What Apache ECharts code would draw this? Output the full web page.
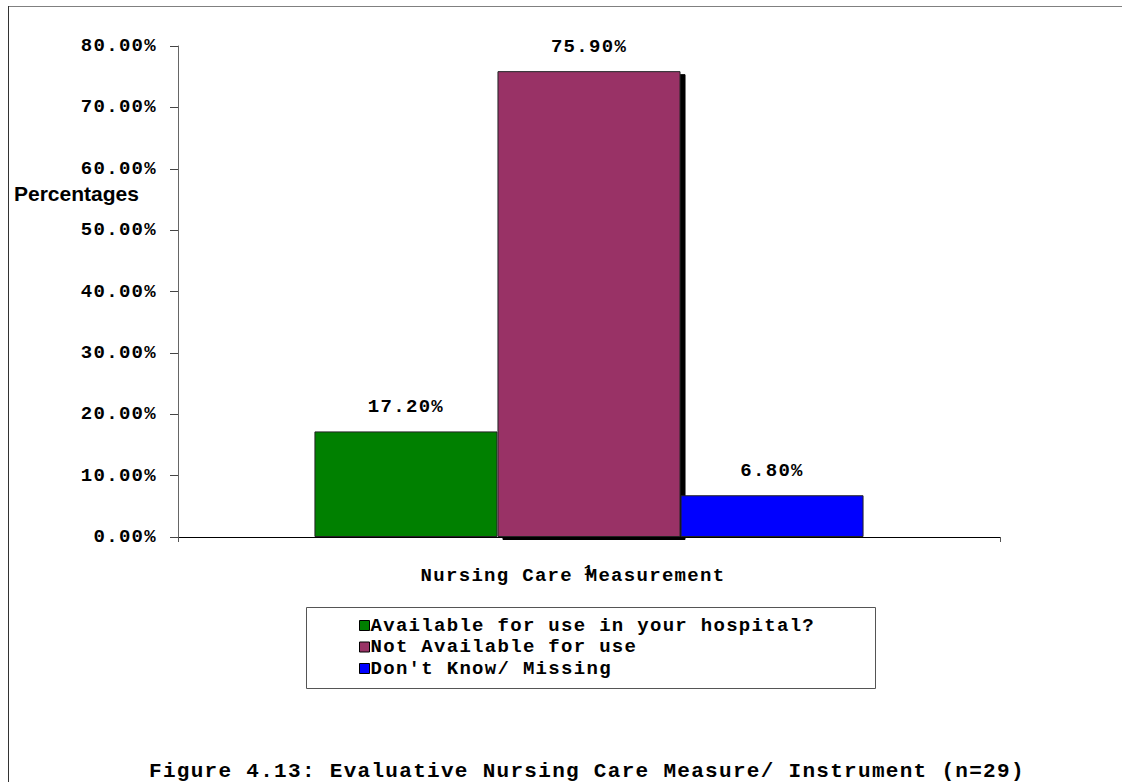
<!DOCTYPE html>
<html>
<head>
<meta charset="utf-8">
<script src="https://cdn.jsdelivr.net/npm/echarts@6/dist/echarts.min.js"></script>
<style>
  html, body { margin: 0; padding: 0; background: #fff; }
  #chart { width: 1122px; height: 782px; }
  #chart text[style*="Mono"] { letter-spacing: 1.3px; }
</style>
</head>
<body>
<div id="chart"></div>
<script>
const categories = ['1'];
const seriesNames = ['Available for use in your hospital?', 'Not Available for use', "Don't Know/ Missing"];
const seriesValues = [17.2, 75.9, 6.8];
const seriesColors = ['#008000', '#993366', '#0000FF'];
const yTicks = { min: 0, max: 80, interval: 10 };
const titleText = 'Figure 4.13: Evaluative Nursing Care Measure/ Instrument (n=29)';
const yName = 'Percentages';
const xName = 'Nursing Care Measurement';

const MONO = "'Liberation Mono', 'Courier New', monospace";

const series = seriesNames.map((name, i) => ({
  name: name,
  type: 'bar',
  data: [seriesValues[i]],
  barGap: '0%',
  barCategoryGap: '33.2%',
  itemStyle: Object.assign({
    color: seriesColors[i],
    borderColor: '#222',
    borderWidth: 1
  }, i === 1 ? { shadowColor: '#000', shadowBlur: 0, shadowOffsetX: 5, shadowOffsetY: 3 } : {}),
  label: {
    show: true,
    position: 'top',
    distance: 15,
    formatter: p => p.value.toFixed(2) + '%',
    fontFamily: MONO,
    fontWeight: 'bold',
    fontSize: 19,
    color: '#000'
  }
}));

const chart = echarts.init(document.getElementById('chart'), null, { renderer: 'svg' });
chart.setOption({
  animation: false,
  backgroundColor: '#fff',
  title: [
    {
      text: titleText,
      left: 149, top: 761,
      padding: 0,
      textStyle: { fontFamily: MONO, fontWeight: 'bold', fontSize: 21, color: '#000' }
    },
    {
      text: yName,
      left: 14, top: 183,
      padding: 0,
      textStyle: { fontFamily: "'Liberation Sans', Arial, sans-serif", fontWeight: 'bold', fontSize: 21, color: '#000' }
    }
  ],
  grid: { left: 178, right: 122, top: 46, bottom: 245, containLabel: false, outerBoundsMode: 'none' },
  xAxis: {
    type: 'category',
    data: categories,
    boundaryGap: true,
    axisLine: { show: true, lineStyle: { color: '#000', width: 1 } },
    axisTick: { show: true, length: 5, lineStyle: { color: '#555' } },
    axisLabel: { margin: 27, fontFamily: MONO, fontWeight: 'bold', fontSize: 15, color: '#000' },
    name: xName,
    nameLocation: 'middle',
    nameGap: 29,
    nameMoveOverlap: false,
    nameTextStyle: { fontFamily: MONO, fontWeight: 'bold', fontSize: 19, color: '#000', padding: [0, 32, 0, 0] }
  },
  yAxis: {
    type: 'value',
    min: yTicks.min, max: yTicks.max, interval: yTicks.interval,
    axisLine: { show: true, lineStyle: { color: '#666', width: 1 } },
    axisTick: { show: true, inside: false, length: 8, lineStyle: { color: '#444' } },
    splitLine: { show: false },
    axisLabel: {
      margin: 21,
      formatter: v => v.toFixed(2) + '%',
      fontFamily: MONO, fontWeight: 'bold', fontSize: 19, color: '#000'
    }
  },
  legend: {
    orient: 'vertical',
    left: 359, top: 616,
    padding: 0,
    itemWidth: 10, itemHeight: 10,
    itemGap: 2.5,
    icon: 'rect',
    selectedMode: false,
    itemStyle: { borderColor: '#000', borderWidth: 1 },
    textStyle: { fontFamily: MONO, fontWeight: 'bold', fontSize: 19, lineHeight: 18, color: '#000', padding: [0, 0, 0, -4] },
    data: seriesNames
  },
  graphic: [
    { type: 'rect', silent: true, shape: { x: 306.5, y: 607.5, width: 569, height: 81 }, style: { fill: 'none', stroke: '#555', lineWidth: 1 } },
    { type: 'line', silent: true, shape: { x1: 8, y1: 6.5, x2: 1122, y2: 6.5 }, style: { stroke: '#808080', lineWidth: 1 } },
    { type: 'line', silent: true, shape: { x1: 8.5, y1: 6, x2: 8.5, y2: 782 }, style: { stroke: '#333', lineWidth: 1 } }
  ],
  series: series
});
</script>
</body>
</html>
